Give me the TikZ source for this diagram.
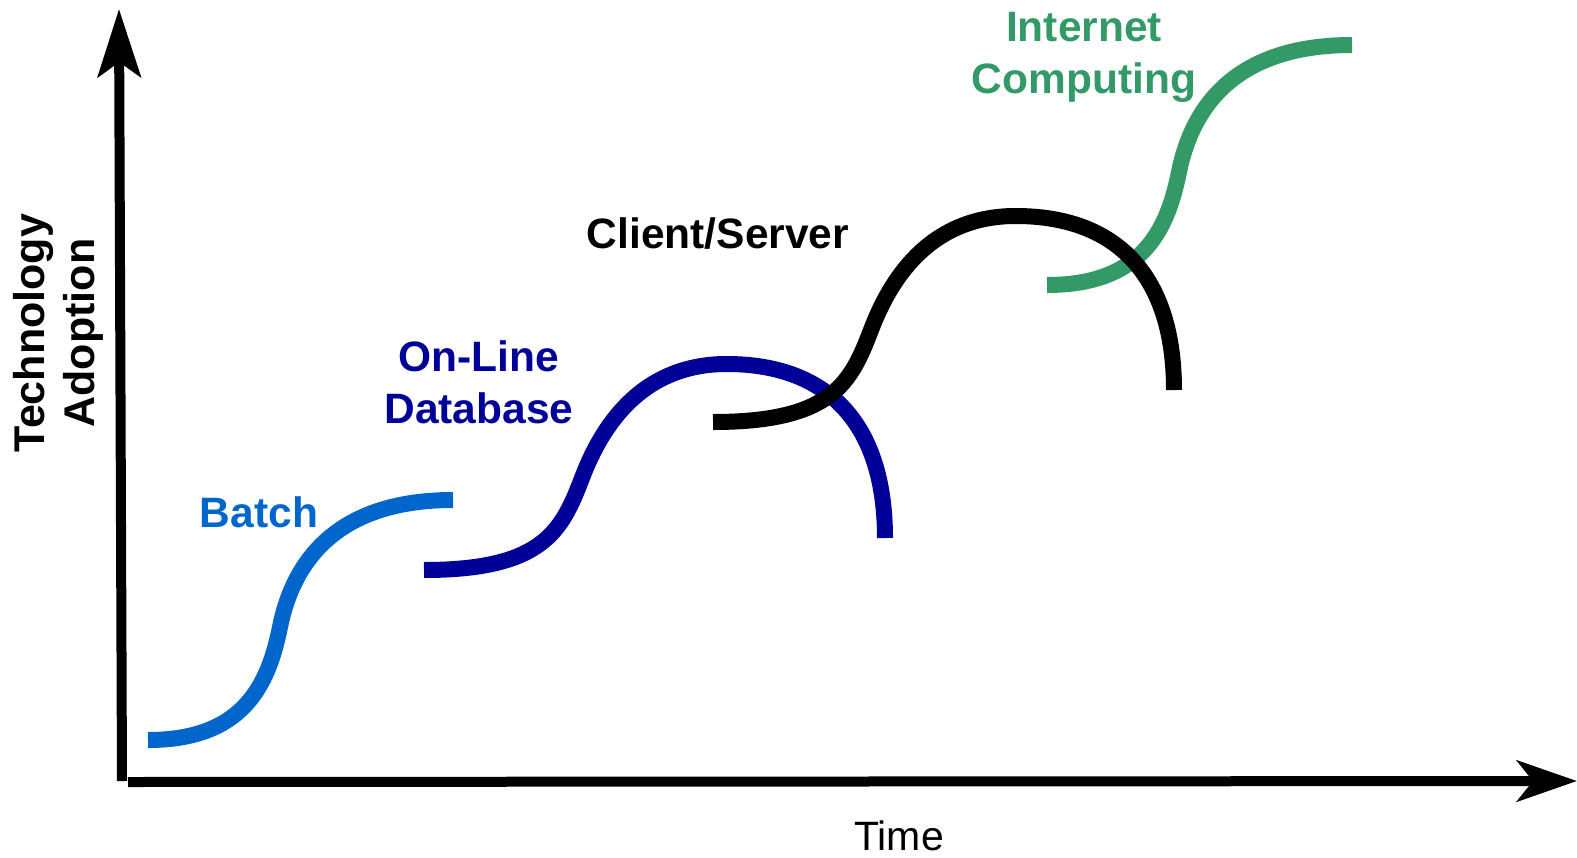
\documentclass[tikz,border=0pt]{standalone}
\usepackage{fontspec}
\setmainfont{Liberation Sans}
\usetikzlibrary{arrows.meta}
\definecolor{cbatch}{RGB}{0,102,204}
\definecolor{conline}{RGB}{0,0,153}
\definecolor{cinet}{RGB}{51,153,102}
\tikzset{
  axisline/.style={line width=10pt, draw=black},
  curveline/.style={line width=16pt, line cap=butt},
  lbl/.style={font=\fontsize{42.5}{52}\selectfont\bfseries, inner sep=0pt, align=center, anchor=base},
}
\begin{document}
\begin{tikzpicture}[x=1pt,y=-1pt]
\useasboundingbox (0,0) rectangle (1577,857);
% axes
\coordinate (o1) at (122,781);
\coordinate (ytip) at (119,9);
\coordinate (o2) at (128,782);
\coordinate (xtip) at (1577,781);
\draw[axisline, -{Stealth[length=68pt,width=43pt,inset=15pt]}] (o1) -- (ytip);
\draw[axisline, -{Stealth[length=60pt,width=41pt,inset=16pt]}] (o2) -- (xtip);
% S-curves (type A)
\begin{scope}[shift={(148,740)}]
\draw[curveline, cbatch] (0,0) .. controls (94.5,0) and (120.2,-54.2) .. (132,-113) .. controls (143.8,-171.8) and (182.5,-240) .. (305,-240);
\end{scope}
\begin{scope}[shift={(1047,285)}]
\draw[curveline, cinet] (0,0) .. controls (94.5,0) and (120.2,-54.2) .. (132,-113) .. controls (143.8,-171.8) and (182.5,-240) .. (305,-240);
\end{scope}
% curves (type B)
\begin{scope}[shift={(424,570)}]
\draw[curveline, conline] (0,0) .. controls (120,0) and (138,-40) .. (158,-92) .. controls (180,-150) and (222,-207) .. (305,-206) .. controls (405.7,-205) and (461,-144.5) .. (461,-32);
\end{scope}
\begin{scope}[shift={(713,422)}]
\draw[curveline, black] (0,0) .. controls (120,0) and (138,-40) .. (158,-92) .. controls (180,-150) and (222,-207) .. (305,-206) .. controls (405.7,-205) and (461,-144.5) .. (461,-32);
\end{scope}
% labels
\node[lbl, text=cbatch] (batch) at (259,527) {Batch};
\node[lbl, text=conline] (online) at (479,423) {On-Line\\Database};
\node[lbl, text=black] (cs) at (718,248) {Client/Server};
\node[lbl, text=cinet] (inet) at (1084,93) {Internet\\Computing};
\node[lbl, text=black, rotate=90, font=\fontsize{43}{50}\selectfont\bfseries] (ta) at (94,333) {Technology\\Adoption};
\node[inner sep=0pt, anchor=base, font=\fontsize{41}{48}\selectfont] (time) at (899,850) {Time};
\end{tikzpicture}
\end{document}
